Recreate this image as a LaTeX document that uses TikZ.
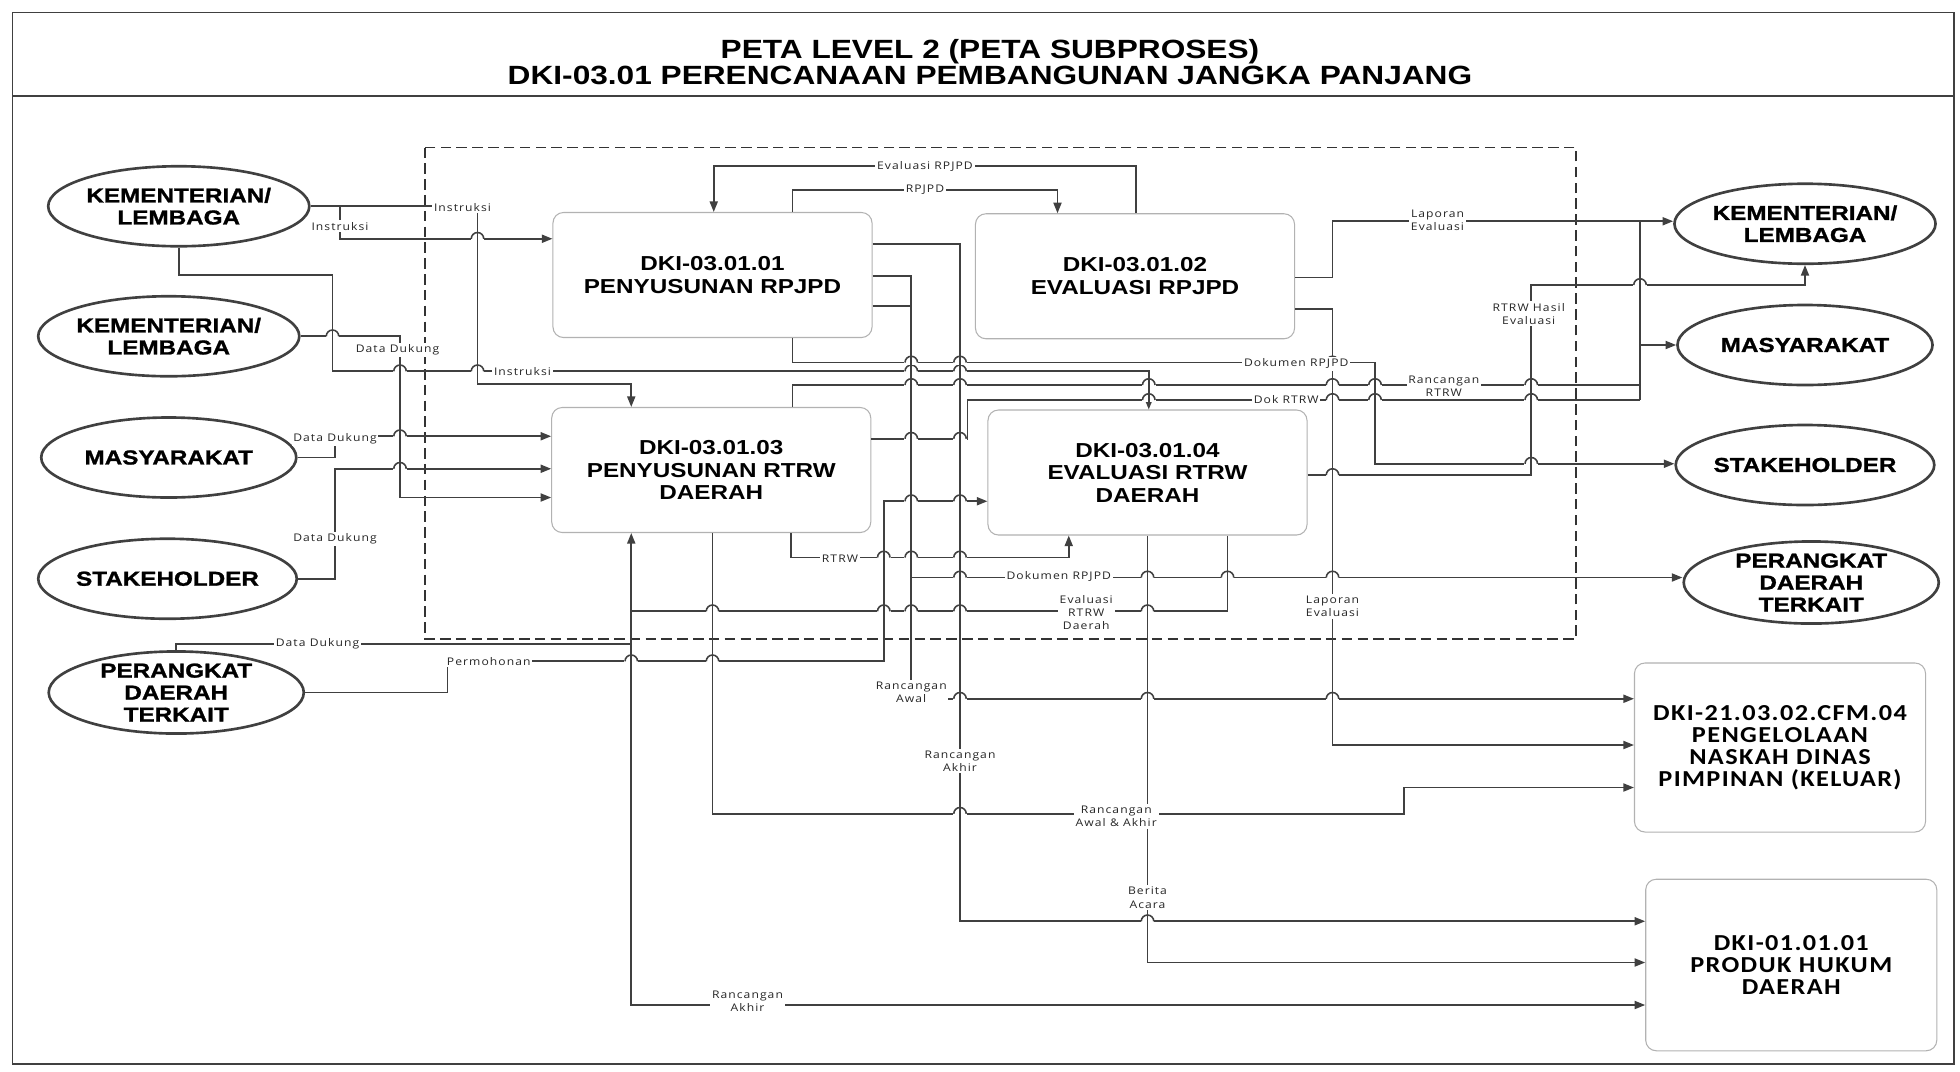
\documentclass[tikz,border=0pt]{standalone}
\usepackage{fontspec}
\setmainfont{Liberation Sans}
\newfontfamily\ovalfont[FakeStretch=1.2,FakeBold=1.2]{Liberation Sans}
\newfontfamily\procfont[FakeStretch=1.2]{Liberation Sans}
\newfontfamily\extfont[FakeStretch=1.15,LetterSpace=6]{Carlito}
\newfontfamily\lblfont[FakeStretch=1.15,LetterSpace=10]{Open Sans}
\usetikzlibrary{arrows.meta,shapes.geometric,positioning}
\definecolor{linegray}{HTML}{404040}

\begin{document}
\begin{tikzpicture}[x=0.025cm,y=-0.025cm,>={Triangle[length=6pt,width=4.6pt]},
  flow/.style={draw=linegray,line width=0.9pt},
  oval/.style={ellipse,draw=linegray,line width=1.5pt,minimum width=5.1cm,minimum height=1.6cm,
    inner sep=0pt,align=center,font=\ovalfont\bfseries\fontsize{11.5}{12.5}\selectfont},
  procbox/.style={draw=gray!60,line width=0.6pt,rounded corners=6pt,fill=white,
    minimum width=6.38cm,minimum height=2.5cm,align=center,
    font=\procfont\bfseries\fontsize{11.5}{12.8}\selectfont},
  extbox/.style={draw=gray!60,line width=0.6pt,rounded corners=6pt,fill=white,
    minimum width=5.82cm,minimum height=3.38cm,align=center,
    font=\extfont\bfseries\fontsize{13}{12.6}\selectfont},
  lbl/.style={fill=white,inner sep=1pt,align=center,text=black!85,
    font=\lblfont\fontsize{6}{7.6}\selectfont}]
  \useasboundingbox (0,0) rectangle (1568,857);

  % Frame and title
  \draw[linegray,line width=1pt] (10,10) rectangle (1563,851);
  \draw[linegray,line width=1.2pt] (10,77) -- (1563,77);
  \node[font=\procfont\bfseries\fontsize{15}{14.9}\selectfont,align=center] (title) at (792,49.5)
    {PETA LEVEL 2 (PETA SUBPROSES)\\DKI-03.01 PERENCANAAN PEMBANGUNAN JANGKA PANJANG};

  % Sub-process boundary
  \draw[black!80,line width=0.9pt,dash pattern=on 6pt off 3pt] (340,118) rectangle (1261,511);

  % Inputs on the left
  \node[oval] (klA) at (143,165) {KEMENTERIAN/\\LEMBAGA};
  \node[oval] (klB) at (135,269) {KEMENTERIAN/\\LEMBAGA};
  \node[oval] (masyIn) at (135,366) {MASYARAKAT};
  \node[oval] (stakeIn) at (134,463) {STAKEHOLDER};
  \node[oval] (pdIn) at (141,554) {PERANGKAT\\DAERAH\\TERKAIT};

  % Outputs on the right
  \node[oval] (klOut) at (1444,179) {KEMENTERIAN/\\LEMBAGA};
  \node[oval] (masyOut) at (1444,276) {MASYARAKAT};
  \node[oval] (stakeOut) at (1444,372) {STAKEHOLDER};
  \node[oval] (pdOut) at (1449,466) {PERANGKAT\\DAERAH\\TERKAIT};

  % Sub-processes
  \node[procbox] (rpjpd) at (570,220) {DKI-03.01.01\\PENYUSUNAN RPJPD};
  \node[procbox] (evrpjpd) at (908,221) {DKI-03.01.02\\EVALUASI RPJPD};
  \node[procbox] (rtrw) at (569,376) {DKI-03.01.03\\PENYUSUNAN RTRW\\DAERAH};
  \node[procbox] (evrtrw) at (918,378) {DKI-03.01.04\\EVALUASI RTRW\\DAERAH};
  \node[extbox] (naskah) at (1424,598) {DKI-21.03.02.CFM.04\\PENGELOLAAN\\NASKAH DINAS\\PIMPINAN (KELUAR)};
  \node[extbox,minimum height=3.43cm] (hukum) at (1433,772) {DKI-01.01.01\\PRODUK HUKUM\\DAERAH};

  % Flows from the left
  \draw[flow,->] (klA.east) -- (272,165) |- (rpjpd.west |- 0,191);
  \draw[flow,->] (klA.east) -- (382,165) |- (505,307) -- (rtrw.north -| 505,0);
  \draw[flow,->] (klA.south) |- (266,220) |- (919,297) -- (evrtrw.north -| 919,0);
  \draw[flow,->] (klB.east) -| (320,398) -- (rtrw.west |- 0,398);
  \draw[flow,->] (masyIn.east) -| (268,349) -- (rtrw.west |- 0,349);
  \draw[flow,->] (stakeIn.east) -| (268,375) -- (rtrw.west |- 0,375);
  \draw[flow] (pdIn.north) |- (505,515);
  \draw[flow,<->] (rtrw.south -| 505,0) -- (505,804) -- (hukum.west |- 0,804);
  \draw[flow,->] (pdIn.east) -| (358,529) -| (707,401) -- (evrtrw.west |- 0,401);

  % Flows between the sub-processes
  \draw[flow,->] (evrpjpd.north -| 909,0) |- (571,133) -- (rpjpd.north -| 571,0);
  \draw[flow,->] (rpjpd.north -| 634,0) |- (846,152) -- (evrpjpd.north -| 846,0);
  \draw[flow,->] (rtrw.south -| 633,0) |- (855,446) -- (evrtrw.south -| 855,0);
  \draw[flow] (evrtrw.south -| 982,0) |- (505,489);
  \draw[flow,->] (rtrw.south -| 570,0) |- (1123,651) |- (naskah.west |- 0,630);

  % Outputs of PENYUSUNAN RPJPD
  \draw[flow,->] (rpjpd.east |- 0,195) -| (768,737) -- (hukum.west |- 0,737);
  \draw[flow,->] (rpjpd.east |- 0,221) -| (729,559) -- (naskah.west |- 0,559);
  \draw[flow] (rpjpd.east |- 0,245) -- (729,245);
  \draw[flow,->] (729,462) -- (pdOut.west |- 0,462);
  \draw[flow,->] (rpjpd.south -| 634,0) |- (1100,290) |- (stakeOut.west |- 0,371);

  % Outputs of PENYUSUNAN RTRW
  \draw[flow] (rtrw.north -| 634,0) |- (1312,308);
  \draw[flow] (rtrw.east |- 0,351) -| (774,320) -- (1312,320);
  \draw[flow] (1312,177) -- (1312,320);
  \draw[flow,->] (1312,276) -- (masyOut.west);

  % Outputs of the evaluations
  \draw[flow,->] (evrpjpd.east |- 0,222) -| (1066,177) -- (klOut.west |- 0,177);
  \draw[flow,->] (evrpjpd.east |- 0,247) -| (1066,596) -- (naskah.west |- 0,596);
  \draw[flow,->] (evrtrw.east |- 0,380) -| (1225,228) -| (klOut.south);
  \draw[flow,->] (evrtrw.south -| 918,0) |- (hukum.west |- 0,770);

  % Line hops where a horizontal flow crosses a vertical one
  \foreach \hx/\hy in {382/191, 320/297, 382/297, 729/297, 768/297, 266/269, 320/349, 320/375,
      505/529, 570/529, 729/401, 768/401, 707/446, 729/446, 768/446,
      570/489, 707/489, 729/489, 768/489, 918/489, 768/651, 918/651, 918/737,
      768/559, 918/559, 1066/559, 768/462, 918/462, 982/462, 1066/462,
      729/290, 768/290, 1066/290, 1225/371,
      729/308, 768/308, 919/308, 1066/308, 1100/308, 1225/308,
      919/320, 1066/320, 1100/320, 1225/320, 729/351, 768/351,
      1066/380, 1312/228} {
    \fill[white] ({\hx-5.5},{\hy-1.6}) rectangle ({\hx+5.5},{\hy+1.6});
    \draw[flow] (\hx,{\hy-2}) -- (\hx,{\hy+2});
    \draw[flow] ({\hx-5},\hy) arc[start angle=180,end angle=0,radius=0.125cm];
  }

  % Labels
  \node[lbl] (lInstrA) at (370,166) {Instruksi};
  \node[lbl] (lInstrB) at (272,181) {Instruksi};
  \node[lbl] (lInstrC) at (418,297) {Instruksi};
  \node[lbl] (lDataA) at (318,280) {Data Dukung};
  \node[lbl] (lDataB) at (268,351) {Data Dukung};
  \node[lbl] (lDataC) at (268,431) {Data Dukung};
  \node[lbl] (lDataD) at (254,515) {Data Dukung};
  \node[lbl] (lMohon) at (391,529) {Permohonan};
  \node[lbl] (lEvRpjpd) at (740,133) {Evaluasi RPJPD};
  \node[lbl] (lRpjpd) at (740,152) {RPJPD};
  \node[lbl] (lLapA) at (1150,176) {Laporan\\Evaluasi};
  \node[lbl] (lHasil) at (1223,251) {RTRW Hasil\\Evaluasi};
  \node[lbl] (lDokA) at (1037,291) {Dokumen RPJPD};
  \node[lbl] (lRancRtrw) at (1155,309) {Rancangan\\RTRW};
  \node[lbl] (lDokRtrw) at (1029,320) {Dok RTRW};
  \node[lbl] (lRtrw) at (672,447) {RTRW};
  \node[lbl] (lDokB) at (847,461) {Dokumen RPJPD};
  \node[lbl] (lEvRtrw) at (869,490) {Evaluasi\\RTRW\\Daerah};
  \node[lbl] (lLapB) at (1066,485) {Laporan\\Evaluasi};
  \node[lbl] (lAwal) at (729,554) {Rancangan\\Awal};
  \node[lbl] (lAkhirA) at (768,609) {Rancangan\\Akhir};
  \node[lbl] (lAwalAkhir) at (893,653) {Rancangan\\Awal \& Akhir};
  \node[lbl] (lBerita) at (918,718) {Berita\\Acara};
  \node[lbl] (lAkhirB) at (598,801) {Rancangan\\Akhir};
\end{tikzpicture}
\end{document}
